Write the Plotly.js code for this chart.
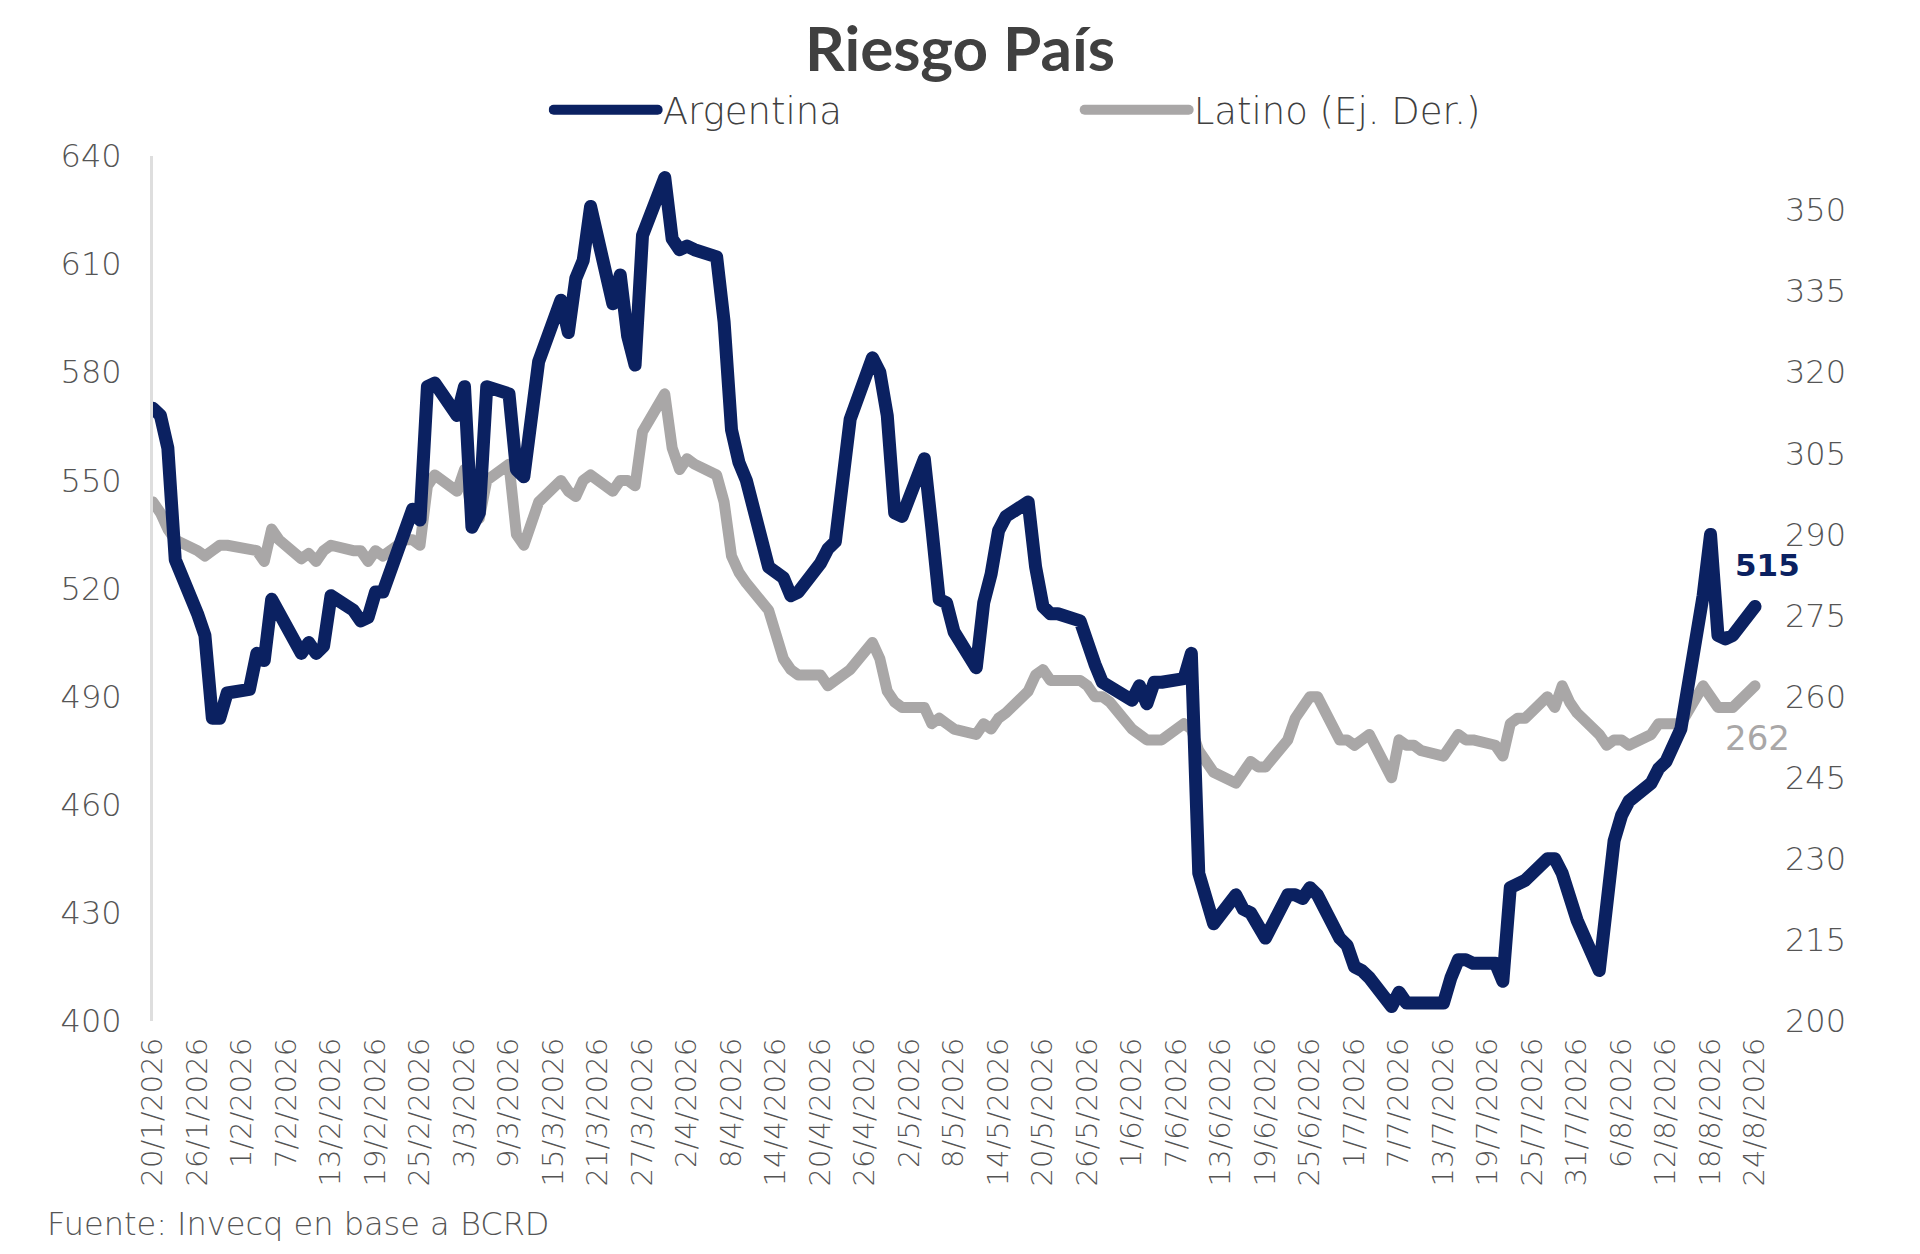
<!DOCTYPE html>
<html>
<head>
<meta charset="utf-8">
<script src="https://cdn.plot.ly/plotly-3.0.1.min.js"></script>
<style>
    html, body { margin: 0; padding: 0; background: #fff; }
    #chart { width: 1920px; height: 1254px; }
    /* thick lines with rounded corners, like the original */
    #chart .js-line { stroke-linejoin: round; stroke-linecap: round; }
</style>
</head>
<body>
<div id="chart"></div>
<script>
// Business days 20/1/2026 .. 24/8/2026 (one value per day)
const startDate = '2026-01-20';
const endDate = '2026-08-24';

// Argentina, left axis
const argentina = [
    570, 568, 559, 528,            // 20-23/1
    513, 507, 484, 484, 491,       // 26-30/1
    492, 502, 500, 517, 513,       // 2-6/2
    502, 505, 502, 504, 518,       // 9-13/2
    514, 511, 512, 519, 519,       // 16-20/2
    537, 542, 539, 576, 577,       // 23-27/2
    568, 576, 537, 541, 576,       // 2-6/3
    574, 553, 551, 566, 583,       // 9-13/3
    600, 591, 606, 611, 626,       // 16-20/3
    599, 607, 590, 582, 618,       // 23-27/3
    634, 617, 614, 615, 614,       // 30/3-3/4
    612, 594, 564, 555, 550,       // 6-10/4
    526, 524, 523, 518, 519,       // 13-17/4
    527, 531, 533, 553, 567,       // 20-24/4
    584, 580, 568, 541, 540,       // 27/4-1/5
    556, 537, 517, 516, 508,       // 4-8/5
    498, 516, 524, 536, 540,       // 11-15/5
    544, 526, 515, 513, 513,       // 18-22/5
    511, 504, 499, 494, 493,       // 25-29/5
    489, 493, 488, 494, 494,       // 1-5/6
    495, 502, 441, 433, 427,       // 8-12/6
    435, 431, 430, 427, 423,       // 15-19/6
    435, 435, 434, 437, 435,       // 22-26/6
    423, 421, 415, 414, 412,       // 29/6-3/7
    404, 408, 405, 405, 405,       // 6-10/7
    405, 412, 417, 417, 416,       // 13-17/7
    416, 411, 437, 438, 439,       // 20-24/7
    445, 445, 441, 434, 428,       // 27-31/7
    414, 432, 450, 457, 461,       // 3-7/8
    466, 470, 472, 476, 481,       // 10-14/8
    518, 535, 507, 506, 507,       // 17-21/8
    515                            // 24/8
];

// Latino, right axis
const latino = [
    296, 294, 291, 289,
    287, 286, 287, 288, 288,
    287, 287, 285, 291, 289,
    285.5, 286.5, 285, 287, 288,
    287, 287, 285, 287, 286,
    289, 289, 288, 299, 301,
    298, 302, 294, 293, 300,
    303, 290, 288, 292, 296,
    300, 298, 297, 300, 301,
    298, 300, 300, 299, 309,
    316, 306, 302, 304, 303,
    301, 296, 286, 283, 281,
    276, 272, 267, 265, 264,
    264, 262, 263, 264, 265,
    270, 267, 261, 259, 258,
    258, 255, 256, 255, 254,
    253, 255, 254, 256, 257,
    261, 264, 265, 263, 263,
    263, 262, 260, 260, 259,
    254, 253, 252, 252, 252,
    255, 254, 250, 248, 246,
    244, 246, 248, 247, 247,
    252, 256, 258, 260, 260,
    252, 252, 251, 252, 253,
    245, 252, 251, 251, 250,
    249, 251, 253, 252, 252,
    251, 249, 255, 256, 256,
    260, 258, 262, 259, 257,
    253, 251, 252, 252, 251,
    253, 255, 255, 255, 255,
    262, 260, 258, 258, 258,
    262
];

const tickDates = [
    '2026-01-20', '2026-01-26', '2026-02-01', '2026-02-07', '2026-02-13', '2026-02-19',
    '2026-02-25', '2026-03-03', '2026-03-09', '2026-03-15', '2026-03-21', '2026-03-27',
    '2026-04-02', '2026-04-08', '2026-04-14', '2026-04-20', '2026-04-26', '2026-05-02',
    '2026-05-08', '2026-05-14', '2026-05-20', '2026-05-26', '2026-06-01', '2026-06-07',
    '2026-06-13', '2026-06-19', '2026-06-25', '2026-07-01', '2026-07-07', '2026-07-13',
    '2026-07-19', '2026-07-25', '2026-07-31', '2026-08-06', '2026-08-12', '2026-08-18',
    '2026-08-24'
];
const leftTicks = [400, 430, 460, 490, 520, 550, 580, 610, 640];
const rightTicks = [200, 215, 230, 245, 260, 275, 290, 305, 320, 335, 350];

const seriesNames = ['Argentina', 'Latino (Ej. Der.)'];
const NAVY = '#0b2161';
const GREY = '#a9a7a7';
const TITLE_FONT = 'Lato, "Open Sans", sans-serif';
const TEXT_FONT = '"DejaVu Sans", Lato, sans-serif';

function businessDays(from, to) {
    const out = [];
    const d = new Date(from + 'T00:00:00Z');
    const end = new Date(to + 'T00:00:00Z');
    while (d <= end) {
        const wd = d.getUTCDay();
        if (wd !== 0 && wd !== 6) out.push(d.toISOString().slice(0, 10));
        d.setUTCDate(d.getUTCDate() + 1);
    }
    return out;
}

const dates = businessDays(startDate, endDate);
const lastDate = dates[dates.length - 1];

// grey goes on the base axis, navy on the overlay so it is drawn on top
const traces = [
    {
        x: dates, y: latino, name: seriesNames[1], yaxis: 'y',
        type: 'scatter', mode: 'lines',
        line: { color: GREY, width: 11 },
        legendrank: 2
    },
    {
        x: dates, y: argentina, name: seriesNames[0], yaxis: 'y2',
        type: 'scatter', mode: 'lines',
        line: { color: NAVY, width: 13 },
        legendrank: 1
    }
];

const tickFont = { family: TEXT_FONT, size: 32, weight: 300, color: '#555555' };

const layout = {
    width: 1920,
    height: 1254,
    autosize: false,
    paper_bgcolor: '#fff',
    plot_bgcolor: '#fff',
    margin: { l: 153, r: 152, t: 156, b: 233 },
    font: { family: TEXT_FONT, color: '#555555' },
    title: {
        text: 'Riesgo País',
        font: { family: TITLE_FONT, size: 62, weight: 'bold', color: '#404040' },
        x: 0.5, xanchor: 'center',
        yref: 'container', y: 1 - 49 / 1254, yanchor: 'middle'
    },
    showlegend: true,
    legend: {
        orientation: 'h',
        x: 0.245, xanchor: 'left',
        y: 1.053, yanchor: 'middle',
        itemwidth: 104,
        entrywidth: 412, entrywidthmode: 'pixels',
        font: { family: TEXT_FONT, size: 37, weight: 300, color: '#404040' },
        bgcolor: 'rgba(0,0,0,0)'
    },
    xaxis: {
        type: 'date',
        range: ['2026-01-20', '2026-08-25 18:00'],
        tickvals: tickDates,
        tickformat: '%-d/%-m/%Y',
        tickangle: -90,
        tickfont: Object.assign({}, tickFont, { size: 29 }),
        ticks: '',
        ticklabelstandoff: 10,
        showgrid: false,
        zeroline: false,
        showline: false
    },
    yaxis: {
        side: 'right',
        range: [200, 360],
        tickvals: rightTicks,
        tickfont: tickFont,
        ticks: '',
        ticklabelstandoff: 16,
        showgrid: false,
        zeroline: false,
        showline: false
    },
    yaxis2: {
        overlaying: 'y',
        side: 'left',
        range: [400, 640],
        tickvals: leftTicks,
        tickfont: tickFont,
        ticks: '',
        ticklabelstandoff: 22,
        showgrid: false,
        zeroline: false,
        showline: true,
        linecolor: '#dedede',
        linewidth: 3
    },
    annotations: [
        {
            x: lastDate, y: argentina[argentina.length - 1], xref: 'x', yref: 'y2',
            text: '<b>' + argentina[argentina.length - 1] + '</b>',
            showarrow: false, xshift: 12, yshift: 42,
            font: { family: TEXT_FONT, size: 31, color: NAVY }
        },
        {
            x: lastDate, y: latino[latino.length - 1], xref: 'x', yref: 'y',
            text: String(latino[latino.length - 1]),
            showarrow: false, xshift: 2, yshift: -52,
            font: { family: TEXT_FONT, size: 34, color: GREY }
        },
        {
            x: -0.0669, xref: 'paper', xanchor: 'left',
            y: -0.2347, yref: 'paper', yanchor: 'middle',
            text: 'Fuente: Invecq en base a BCRD',
            showarrow: false,
            font: { family: TEXT_FONT, size: 32, weight: 300, color: '#555555' }
        }
    ]
};

Plotly.newPlot('chart', traces, layout, { displayModeBar: false, staticPlot: true });
</script>
</body>
</html>
